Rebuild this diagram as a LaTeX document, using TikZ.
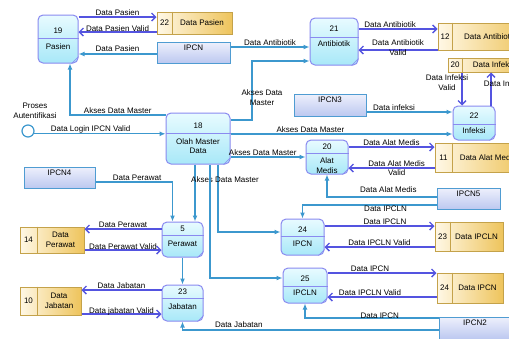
\documentclass[tikz,border=0pt]{standalone}
\usepackage{fontspec}
\setmainfont{Liberation Sans}
\usetikzlibrary{arrows.meta}
\definecolor{flowblue}{HTML}{3C98CE}
\definecolor{storeblue}{HTML}{5454E0}
\definecolor{procedge}{HTML}{8A8AF0}
\definecolor{proctop}{HTML}{E8FBFF}
\definecolor{procbot}{HTML}{A8E8F8}
\definecolor{stedge}{HTML}{C4A24A}
\definecolor{stleft}{HTML}{FFF8E6}
\definecolor{stright}{HTML}{EEC45C}
\definecolor{entedge}{HTML}{4F9CD2}
\definecolor{enttop}{HTML}{EEF0FC}
\definecolor{entbot}{HTML}{BCC8F0}

\begin{document}
\begin{tikzpicture}[x=1pt,y=-1pt,font=\fontsize{8}{9.5}\selectfont]
\par
\tikzstyle{dataflow}=[draw=flowblue,line width=1.2pt,-{Latex[length=6pt,width=5pt]}]
\tikzstyle{storeflow}=[draw=storeblue,line width=1.4pt,-{Straight Barb[length=4pt,width=8pt]}]
\tikzstyle{proc}=[draw=procedge,line width=1pt,rounded corners=5pt,top color=proctop,bottom color=procbot,inner sep=0pt]
\tikzstyle{store}=[draw=stedge,line width=1pt,left color=stleft,right color=stright,inner sep=0pt]
\tikzstyle{ent}=[draw=entedge,line width=1pt,top color=enttop,bottom color=entbot,inner sep=0pt]
\tikzstyle{lbl}=[inner sep=0.5pt,align=center]
\useasboundingbox (0,0) rectangle (509,338);
\fill[white] (0,0) rectangle (509,338);
\clip (0,0) rectangle (509,338);
\par
\node[proc,minimum width=40pt,minimum height=48pt] (p19) at (58,39) {};
\draw[procedge,line width=0.8pt] (p19.west |- 0,38) -- (p19.east |- 0,38);
\draw[procedge] ([xshift=-7pt]p19.south east) -- ([yshift=7pt]p19.south east);
\node[lbl] (p19n) at (58,31) {19};
\node[lbl] (p19t) at (58,47) {Pasien};
\node[proc,minimum width=48pt,minimum height=47pt] (p21) at (334,41.5) {};
\draw[procedge,line width=0.8pt] (p21.west |- 0,37) -- (p21.east |- 0,37);
\draw[procedge] ([xshift=-7pt]p21.south east) -- ([yshift=7pt]p21.south east);
\node[lbl] (p21n) at (334,29) {21};
\node[lbl] (p21t) at (334,44) {Antibiotik};
\node[proc,minimum width=64pt,minimum height=51pt] (p18) at (198,138.5) {};
\draw[procedge,line width=0.8pt] (p18.west |- 0,133) -- (p18.east |- 0,133);
\draw[procedge] ([xshift=-7pt]p18.south east) -- ([yshift=7pt]p18.south east);
\node[lbl] (p18n) at (198,126) {18};
\node[lbl] (p18t) at (198,146) {Olah Master\\Data};
\node[proc,minimum width=42pt,minimum height=34pt] (p22) at (474,123) {};
\draw[procedge,line width=0.8pt] (p22.west |- 0,124) -- (p22.east |- 0,124);
\draw[procedge] ([xshift=-6pt]p22.south east) -- ([yshift=6pt]p22.south east);
\node[lbl] (p22n) at (474,116) {22};
\node[lbl] (p22t) at (474,131) {Infeksi};
\node[proc,minimum width=42pt,minimum height=34pt] (p20) at (327,157) {};
\draw[procedge,line width=0.8pt] (p20.west |- 0,153) -- (p20.east |- 0,153);
\draw[procedge] ([xshift=-6pt]p20.south east) -- ([yshift=6pt]p20.south east);
\node[lbl] (p20n) at (327,147) {20};
\node[lbl] (p20t) at (327,165.5) {Alat\\Medis};
\node[proc,minimum width=41pt,minimum height=35pt] (p5) at (182.5,239.5) {};
\draw[procedge,line width=0.8pt] (p5.west |- 0,235) -- (p5.east |- 0,235);
\draw[procedge] ([xshift=-6pt]p5.south east) -- ([yshift=6pt]p5.south east);
\node[lbl] (p5n) at (182.5,229) {5};
\node[lbl] (p5t) at (182.5,244) {Perawat};
\node[proc,minimum width=41pt,minimum height=36pt] (p23) at (182.5,303) {};
\draw[procedge,line width=0.8pt] (p23.west |- 0,298) -- (p23.east |- 0,298);
\draw[procedge] ([xshift=-6pt]p23.south east) -- ([yshift=6pt]p23.south east);
\node[lbl] (p23n) at (182.5,292) {23};
\node[lbl] (p23t) at (182.5,307) {Jabatan};
\node[proc,minimum width=43pt,minimum height=36pt] (p24) at (302.5,237) {};
\draw[procedge,line width=0.8pt] (p24.west |- 0,236) -- (p24.east |- 0,236);
\draw[procedge] ([xshift=-6pt]p24.south east) -- ([yshift=6pt]p24.south east);
\node[lbl] (p24n) at (302.5,229.5) {24};
\node[lbl] (p24t) at (302.5,244) {IPCN};
\node[proc,minimum width=44pt,minimum height=35pt] (p25) at (305,285.5) {};
\draw[procedge,line width=0.8pt] (p25.west |- 0,286) -- (p25.east |- 0,286);
\draw[procedge] ([xshift=-6pt]p25.south east) -- ([yshift=6pt]p25.south east);
\node[lbl] (p25n) at (305,279) {25};
\node[lbl] (p25t) at (305,293) {IPCLN};
\par
\node[store,minimum width=75pt,minimum height=22pt] (s22) at (194.5,23) {};
\draw[stedge,line width=0.8pt] (s22.north -| 172,0) -- (s22.south -| 172,0);
\node[lbl] (s22n) at (164.5,23) {22};
\node[lbl] (s22t) at (202,23) {Data Pasien};
\node[store,minimum width=90pt,minimum height=27pt] (s12) at (483,36.5) {};
\draw[stedge,line width=0.8pt] (s12.north -| 452,0) -- (s12.south -| 452,0);
\node[lbl] (s12n) at (445,36.5) {12};
\node[lbl] (s12t) at (490,36.5) {Data Antibiotik};
\node[store,minimum width=78pt,minimum height=14pt] (s20) at (487,65) {};
\draw[stedge,line width=0.8pt] (s20.north -| 462,0) -- (s20.south -| 462,0);
\node[lbl] (s20n) at (455,65) {20};
\node[lbl] (s20t) at (494,65) {Data Infeksi};
\node[store,minimum width=89pt,minimum height=29pt] (s11) at (479.5,157.5) {};
\draw[stedge,line width=0.8pt] (s11.north -| 452,0) -- (s11.south -| 452,0);
\node[lbl] (s11n) at (443.5,157.5) {11};
\node[lbl] (s11t) at (488,157.5) {Data Alat Medis};
\node[store,minimum width=64pt,minimum height=26pt] (s14) at (52,240) {};
\draw[stedge,line width=0.8pt] (s14.north -| 37,0) -- (s14.south -| 37,0);
\node[lbl] (s14n) at (28.5,240) {14};
\node[lbl] (s14t) at (60.5,240) {Data\\Perawat};
\node[store,minimum width=61pt,minimum height=28pt] (s10) at (50.5,301) {};
\draw[stedge,line width=0.8pt] (s10.north -| 37,0) -- (s10.south -| 37,0);
\node[lbl] (s10n) at (28.5,301) {10};
\node[lbl] (s10t) at (59,301) {Data\\Jabatan};
\node[store,minimum width=68pt,minimum height=29pt] (s23) at (469,236.5) {};
\draw[stedge,line width=0.8pt] (s23.north -| 450,0) -- (s23.south -| 450,0);
\node[lbl] (s23n) at (442.5,236.5) {23};
\node[lbl] (s23t) at (476.5,236.5) {Data IPCLN};
\node[store,minimum width=66pt,minimum height=30pt] (s24) at (470,288) {};
\draw[stedge,line width=0.8pt] (s24.north -| 452,0) -- (s24.south -| 452,0);
\node[lbl] (s24n) at (444.5,288) {24};
\node[lbl] (s24t) at (477.5,288) {Data IPCN};
\par
\node[ent,minimum width=73pt,minimum height=21pt] (ipcn) at (193.5,52.5) {};
\node[lbl,below=2.5pt] (ipcnt) at (ipcn.north) {IPCN};
\node[ent,minimum width=72pt,minimum height=22pt] (ipcn3) at (330,105) {};
\node[lbl,below=2.5pt] (ipcn3t) at (ipcn3.north) {IPCN3};
\node[ent,minimum width=71pt,minimum height=21pt] (ipcn4) at (59.5,177.5) {};
\node[lbl,below=2.5pt] (ipcn4t) at (ipcn4.north) {IPCN4};
\node[ent,minimum width=63pt,minimum height=21pt] (ipcn5) at (468.5,198.5) {};
\node[lbl,below=2.5pt] (ipcn5t) at (ipcn5.north) {IPCN5};
\node[ent,minimum width=72pt,minimum height=22pt] (ipcn2) at (475,328) {};
\node[lbl,below=2.5pt] (ipcn2t) at (ipcn2.north) {IPCN2};
\node[draw=flowblue,line width=1.2pt,circle,minimum size=12pt,inner sep=0pt,fill=white] (auth) at (28,131) {};
\node[lbl] (autht) at (35,111) {Proses\\Autentifikasi};
\par
\draw[storeflow] (p19.east |- 0,17) -- node[lbl,above] {Data Pasien} (s22.west |- 0,17);
\draw[storeflow] (s22.west |- 0,32) -- node[lbl,yshift=3.5pt] {Data Pasien Valid} (p19.east |- 0,32);
\draw[dataflow] (ipcn.west |- 0,54) -- node[lbl,above=1pt] {Data Pasien} (p19.east |- 0,54);
\draw[dataflow] (ipcn.east |- 0,47) -- node[lbl,above] {Data Antibiotik} (p21.west |- 0,47);
\draw[storeflow] (p21.east |- 0,29) -- node[lbl,above,pos=0.4] {Data Antibiotik} (s12.west |- 0,29);
\draw[storeflow] (s12.west |- 0,50) -- node[lbl,yshift=2.5pt] {Data Antibiotik\\Valid} (p21.east |- 0,50);
\draw[dataflow] (p18.east |- 0,120) -- (252,120) |- node[lbl,pos=0.19,xshift=10pt] {Akses Data\\Master} (p21.west |- 0,61);
\draw[dataflow] (p18.west |- 0,115) -| node[lbl,pos=0.25,above] {Akses Data Master} ([xshift=12pt]p19.south);
\draw[dataflow] (auth.-25) -- node[lbl,pos=0.43,above] {Data Login IPCN Valid} (p18.west |- auth.-25);
\draw[dataflow] (p18.east |- 0,134) -- node[lbl,pos=0.36,above] {Akses Data Master} (p22.west |- 0,134);
\draw[dataflow] (ipcn3.east |- 0,112) -- node[lbl,pos=0.32,above] {Data infeksi} (p22.west |- 0,112);
\draw[storeflow] (s20.south -| 462,0) -- node[lbl,pos=0.3,xshift=-15pt] {Data Infeksi\\Valid} (p22.north -| 462,0);
\draw[storeflow] (p22.north -| 491,0) -- node[lbl,pos=0.65,xshift=14pt] {Data Infeksi} (s20.south -| 491,0);
\par
\draw[dataflow] (p18.east |- 0,157) -- node[lbl,pos=0.43,above] {Akses Data Master} (p20.west |- 0,157);
\draw[storeflow] (p20.east |- 0,147) -- node[lbl,above] {Data Alat Medis} (s11.west |- 0,147);
\draw[storeflow] (s11.west |- 0,168) -- node[lbl,pos=0.44] {Data Alat Medis\\Valid} (p20.east |- 0,168);
\draw[dataflow] (ipcn5.west |- 0,197) -| node[lbl,pos=0.22,above=3pt] {Data Alat Medis} (p20.south);
\draw[dataflow] (ipcn5.west |- 0,205) -| node[lbl,pos=0.19,below] {Data IPCLN} (p24.north);
\draw[storeflow] (p24.east |- 0,226) -- node[lbl,pos=0.55,above] {Data IPCLN} (s23.west |- 0,226);
\draw[storeflow] (s23.west |- 0,247) -- node[lbl,above] {Data IPCLN Valid} (p24.east |- 0,247);
\draw[storeflow] (p25.east |- 0,273) -- node[lbl,pos=0.39,above] {Data IPCN} (s24.west |- 0,273);
\draw[storeflow] (s24.west |- 0,297) -- node[lbl,pos=0.61,above] {Data IPCLN Valid} (p25.east |- 0,297);
\draw[dataflow] (ipcn2.west |- 0,318) -| node[lbl,pos=0.22,yshift=2.5pt] {Data IPCN} (p25.south);
\draw[dataflow] (ipcn2.west |- 0,330) -| node[lbl,pos=0.39,above=1.5pt] {Data Jabatan} (p23.south);
\par
\draw[dataflow] (ipcn4.east |- 0,182) -| node[lbl,pos=0.27,above] {Data Perawat} ([xshift=-10pt]p5.north);
\draw[dataflow] (p18.south -| 195,0) -- (p5.north -| 195,0);
\draw[dataflow] (p18.south -| 218,0) |- node[lbl,pos=0.11,xshift=7pt] {Akses Data Master} (p24.west |- 0,232);
\draw[dataflow] (p18.south -| 210,0) |- (p25.west |- 0,278);
\draw[dataflow] (p5.south) -- (p23.north);
\draw[storeflow] (p5.west |- 0,229) -- node[lbl,above] {Data Perawat} (s14.east |- 0,229);
\draw[storeflow] (s14.east |- 0,250) -- node[lbl,yshift=3pt] {Data Perawat Valid} (p5.west |- 0,250);
\draw[storeflow] (p23.west |- 0,290) -- node[lbl,above] {Data Jabatan} (s10.east |- 0,290);
\draw[storeflow] (s10.east |- 0,314) -- node[lbl,yshift=3pt] {Data jabatan Valid} (p23.west |- 0,314);
\par
\end{tikzpicture}
\end{document}
